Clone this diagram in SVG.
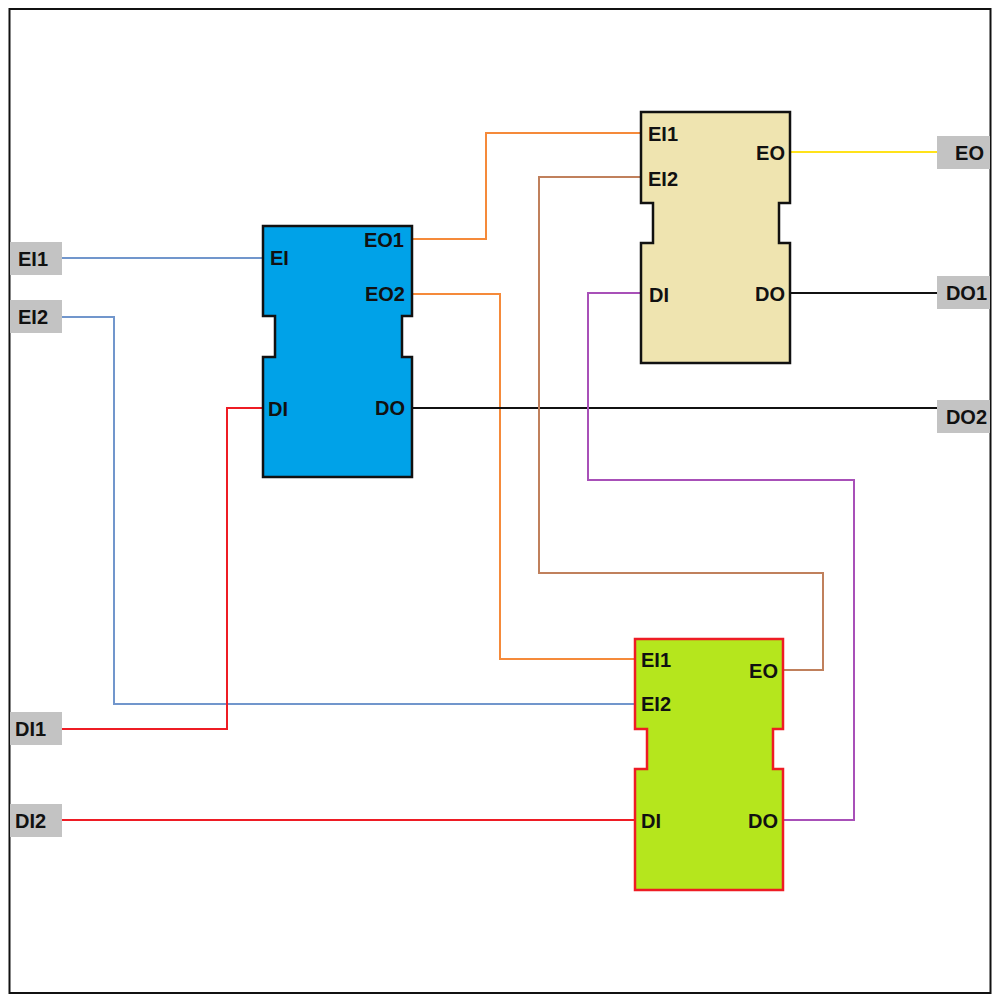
<svg xmlns="http://www.w3.org/2000/svg" width="1000" height="1000" viewBox="0 0 1000 1000">
<style>
text{font-family:"Liberation Sans",Arial,sans-serif;font-size:20px;font-weight:bold;fill:#111;}
.r{text-anchor:end;}
.blk{stroke:#111;stroke-width:2.5;}
.io{fill:#c3c3c3;}
.w{fill:none;stroke-width:2;}
</style>
<rect width="1000" height="1000" fill="#fff"/>
<rect x="9.5" y="9" width="981" height="984" fill="none" stroke="#111" stroke-width="2"/>
<g id="connectors">
<polyline class="w" stroke="#7196cc" points="62,258 263,258"/>
<polyline class="w" stroke="#7196cc" points="62,317 114,317 114,704 635,704"/>
<polyline class="w" stroke="#ee1c24" points="62,729 227,729 227,408 263,408"/>
<polyline class="w" stroke="#ee1c24" points="62,820 635,820"/>
<polyline class="w" stroke="#f58a3a" points="412,239 486,239 486,133 641,133"/>
<polyline class="w" stroke="#f58a3a" points="412,294 500,294 500,659 635,659"/>
<polyline class="w" stroke="#111" points="412,408 937,408"/>
<polyline class="w" stroke="#ffe21a" points="790,152 937,152"/>
<polyline class="w" stroke="#111" points="790,293 937,293"/>
<polyline class="w" stroke="#c0805c" points="783,670 823,670 823,573 539,573 539,177 641,177"/>
<polyline class="w" stroke="#a850b8" points="783,820 854,820 854,480 588,480 588,293 641,293"/>
</g>
<g id="in-EI1"><rect class="io" x="10" y="242" width="52" height="33"/><text x="18" y="266">EI1</text></g>
<g id="in-EI2"><rect class="io" x="10" y="300" width="52" height="33"/><text x="18" y="324">EI2</text></g>
<g id="in-DI1"><rect class="io" x="10" y="712" width="52" height="33"/><text x="15" y="736">DI1</text></g>
<g id="in-DI2"><rect class="io" x="10" y="804" width="52" height="33"/><text x="15" y="828">DI2</text></g>
<g id="out-EO"><rect class="io" x="937" y="136" width="53" height="33"/><text class="r" x="984" y="160">EO</text></g>
<g id="out-DO1"><rect class="io" x="937" y="276" width="53" height="33"/><text class="r" x="987" y="300">DO1</text></g>
<g id="out-DO2"><rect class="io" x="937" y="400" width="53" height="33"/><text class="r" x="987" y="424">DO2</text></g>
<g id="block-blue">
<path class="blk" fill="#00a2e8" d="M263,226 H412 V316 H402 V357 H412 V477 H263 V357 H275 V316 H263 Z"/>
<text x="270" y="265">EI</text>
<text class="r" x="404" y="247">EO1</text>
<text class="r" x="405" y="301">EO2</text>
<text x="268" y="416">DI</text>
<text class="r" x="405" y="415">DO</text>
</g>
<g id="block-beige">
<path class="blk" fill="#efe4b0" d="M641,112 H790 V203 H779 V243 H790 V363 H641 V243 H653 V203 H641 Z"/>
<text x="648" y="141">EI1</text>
<text x="648" y="186">EI2</text>
<text class="r" x="785" y="160">EO</text>
<text x="649" y="302">DI</text>
<text class="r" x="785" y="301">DO</text>
</g>
<g id="block-green">
<path stroke="#ee1c24" stroke-width="2.5" fill="#b5e61d" d="M635,639 H783 V729 H773 V769 H783 V890 H635 V769 H647 V729 H635 Z"/>
<text x="641" y="667">EI1</text>
<text x="641" y="711">EI2</text>
<text class="r" x="778" y="678">EO</text>
<text x="641" y="828">DI</text>
<text class="r" x="778" y="828">DO</text>
</g>
</svg>
